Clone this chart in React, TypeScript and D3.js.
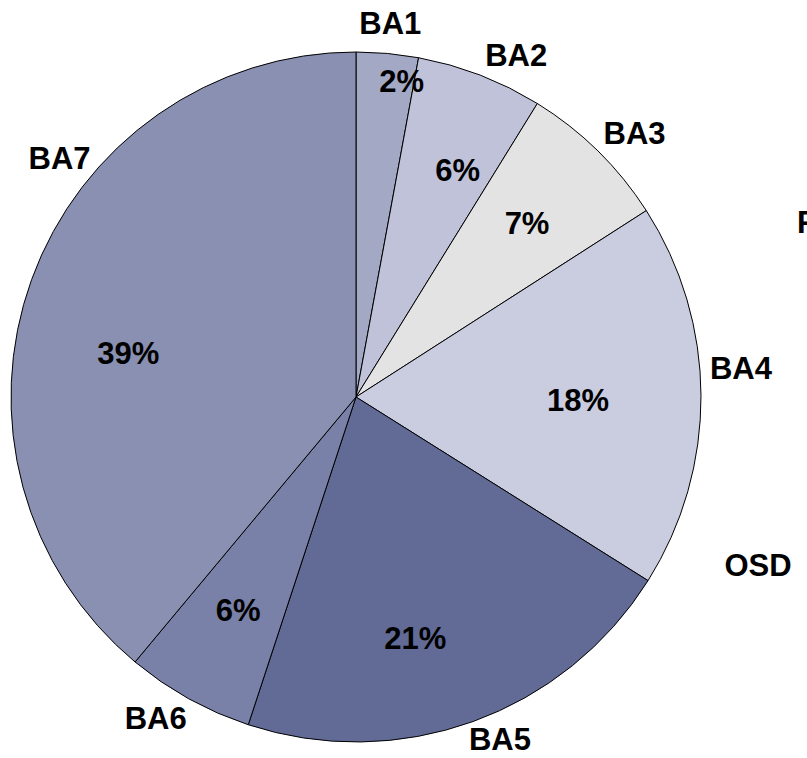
import React, { useRef, useEffect } from "react";
import * as d3 from "d3";

const categories = ["BA1", "BA2", "BA3", "BA4", "BA5", "BA6", "BA7"];
const shares = [2.9, 5.9, 7.1, 18.0, 21.1, 6.0, 38.9];
const pctLabels = ["2%", "6%", "7%", "18%", "21%", "6%", "39%"];
const colors = ["#a3a8c5", "#bfc2d9", "#e3e3e3", "#cacde0", "#626a96", "#7981a8", "#8a90b1"];
// labels from the neighbouring chart that spill into this frame
const strayLabels = ["F", "OSD"];

const App: React.FC = () => {
  const ref = useRef<SVGSVGElement | null>(null);

  useEffect(() => {
    document.body.style.margin = "0";
    if (!ref.current) return;
    const cx = 356;
    const cy = 397;
    const radius = 345;
    const fontSize = 31;

    const svg = d3.select(ref.current);
    svg.selectAll("*").remove();

    const data = categories.map((c, i) => ({ cat: c, value: shares[i], pct: pctLabels[i], color: colors[i] }));
    type D = (typeof data)[number];

    const pie = d3.pie<D>().value((d) => d.value).sort(null);
    const arcs = pie(data);
    const arc = d3.arc<d3.PieArcDatum<D>>().innerRadius(0).outerRadius(radius);

    const g = svg.append("g").attr("transform", `translate(${cx},${cy})`);

    g.selectAll("path.slice")
      .data(arcs)
      .enter()
      .append("path")
      .attr("class", "slice")
      .attr("d", arc)
      .attr("fill", (d) => d.data.color)
      .attr("stroke", "#000")
      .attr("stroke-width", 1);

    const font = "'Liberation Sans', Arial, sans-serif";
    const polar = (a: number, r: number) => `translate(${r * Math.sin(a)},${-r * Math.cos(a)})`;
    const mid = (d: d3.PieArcDatum<D>) => (d.startAngle + d.endAngle) / 2;
    const deg = Math.PI / 180;

    // percent labels; small tweaks (degrees / px) so they sit like Excel's
    const pctNudge = [3, 3, 0, 1, 6, 0, -9];
    const pctRadius = [319, 249, 244, 222, 248, 243, 232];
    g.selectAll("text.pct")
      .data(arcs)
      .enter()
      .append("text")
      .attr("class", "pct")
      .attr("transform", (d, i) => polar(mid(d) + pctNudge[i] * deg, pctRadius[i]))
      .attr("text-anchor", "middle")
      .attr("dy", "0.36em")
      .attr("font-family", font)
      .attr("font-weight", "bold")
      .attr("font-size", fontSize)
      .text((d) => d.data.pct);

    // category labels around the rim
    const catNudge = [0, 4, 2, -4, -3, 3, 19];
    const catRadius = [376, 378, 384, 386, 371, 378, 381];
    g.selectAll("text.cat")
      .data(arcs)
      .enter()
      .append("text")
      .attr("class", "cat")
      .attr("transform", (d, i) => polar(mid(d) + catNudge[i] * deg, catRadius[i]))
      .attr("text-anchor", "middle")
      .attr("dy", "0.36em")
      .attr("font-family", font)
      .attr("font-weight", "bold")
      .attr("font-size", fontSize)
      .text((d) => d.data.cat);

    svg
      .append("text")
      .attr("x", 797)
      .attr("y", 222)
      .attr("dy", "0.36em")
      .attr("font-family", font)
      .attr("font-weight", "bold")
      .attr("font-size", fontSize)
      .text(strayLabels[0]);

    svg
      .append("text")
      .attr("x", 758)
      .attr("y", 565)
      .attr("dy", "0.36em")
      .attr("text-anchor", "middle")
      .attr("font-family", font)
      .attr("font-weight", "bold")
      .attr("font-size", fontSize)
      .text(strayLabels[1]);
  }, []);

  return <svg ref={ref} width={807} height={758} style={{ display: "block" }} />;
};

export default App;
